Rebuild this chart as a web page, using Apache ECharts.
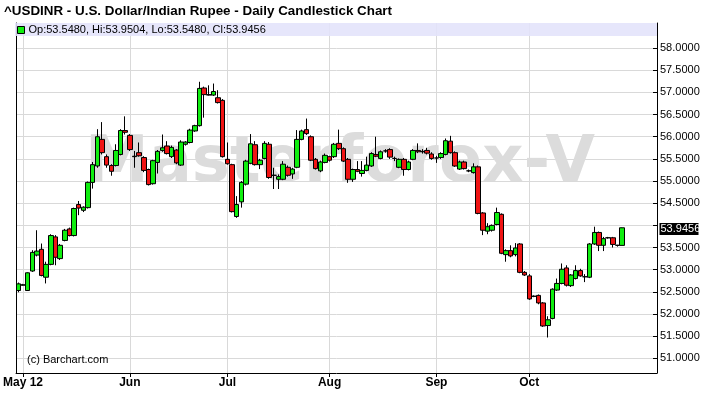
<!DOCTYPE html>
<html><head><meta charset="utf-8">
<script src="https://cdn.jsdelivr.net/npm/echarts@6/dist/echarts.min.js"></script>
<style>html,body{margin:0;padding:0;background:#fff;}#c{width:709px;height:394px;}</style>
</head><body><div id="c"></div>
<script>
const titleText = '^USDINR - U.S. Dollar/Indian Rupee - Daily Candlestick Chart';
const legendText = 'Op:53.5480, Hi:53.9504, Lo:53.5480, Cl:53.9456';
const watermarkText = 'Masterforex-V';
const copyrightText = '(c) Barchart.com';
const firstDate = '2012-04-30';
const slotCount = 138;
const monthTicks = {'2012-05-01':'May 12','2012-06-01':'Jun','2012-07-02':'Jul','2012-08-01':'Aug','2012-09-03':'Sep','2012-10-01':'Oct'};
const yTicks = [51,51.5,52,52.5,53,53.5,54,54.5,55,55.5,56,56.5,57,57.5,58];
const yMin = 50.669, yMax = 58.566;

const opens = [52.53,52.65,52.53,52.97,53.33,53.46,52.83,53.12,53.74,53.25,
53.66,53.92,53.77,54.47,54.34,54.40,54.97,55.34,55.94,55.55,
55.35,55.35,55.60,56.14,56.03,55.55,55.64,55.53,55.26,54.94,
55.42,55.69,55.79,55.55,55.70,55.36,55.83,55.87,56.13,56.25,
57.10,56.95,56.94,56.88,56.82,55.49,55.37,54.20,54.53,54.93,
55.40,55.82,55.37,55.51,55.83,55.13,55.04,55.04,55.31,55.16,
55.31,55.94,56.16,56.00,55.49,55.23,55.42,55.55,55.55,55.85,
55.73,55.49,55.04,55.26,55.17,55.24,55.34,55.60,55.51,55.68,
55.71,55.51,55.31,55.49,55.26,55.49,55.69,55.66,55.69,55.61,
55.52,55.53,55.60,55.90,55.64,55.27,55.43,55.23,55.19,55.32,
54.28,53.87,53.89,54.02,54.25,53.34,53.43,53.34,53.58,52.94,
52.86,52.40,52.42,52.25,51.74,51.90,52.54,52.69,53.04,52.64,
52.80,52.98,52.84,52.83,53.58,53.84,53.55,53.72,53.72,53.55,
53.548];
const closes = [52.68,52.66,52.93,53.39,53.42,52.87,53.12,53.77,53.28,53.55,
53.89,53.77,54.38,54.39,54.41,54.97,55.37,56.00,55.64,55.36,
55.22,55.69,56.14,56.10,55.71,55.56,55.57,55.24,54.92,55.46,
55.67,55.75,55.62,55.76,55.41,55.88,55.88,56.15,56.25,57.09,
56.95,56.94,57.02,56.77,55.55,55.39,54.31,54.47,54.97,55.45,
55.84,55.37,55.47,55.85,55.08,55.13,55.10,55.38,55.13,55.27,
55.94,56.13,56.07,55.47,55.28,55.43,55.58,55.47,55.83,55.73,
55.45,55.04,55.26,55.22,55.24,55.36,55.62,55.56,55.66,55.68,
55.54,55.51,55.49,55.26,55.43,55.69,55.66,55.67,55.63,55.51,
55.52,55.62,55.91,55.64,55.34,55.43,55.28,55.23,55.32,54.27,
53.89,53.97,54.00,54.29,53.37,53.43,53.31,53.49,52.94,52.88,
52.34,52.40,52.25,51.73,51.87,52.56,52.69,53.01,52.65,52.88,
52.98,52.86,52.84,53.58,53.84,53.55,53.70,53.72,53.57,53.55,
53.9456];
const lows = [52.49,52.64,52.52,52.95,53.30,52.85,52.69,53.10,53.10,53.22,
53.64,53.75,53.75,54.23,54.30,54.38,54.83,55.30,55.60,55.30,
55.12,55.33,55.58,56.05,55.68,55.30,55.55,55.20,54.90,54.92,
55.17,55.66,55.60,55.52,55.38,55.34,55.80,55.85,56.11,56.23,
56.43,56.93,56.92,56.75,55.53,55.37,54.29,54.17,54.40,54.90,
55.38,55.35,55.27,55.49,55.05,54.82,54.82,55.02,55.10,55.05,
55.29,55.92,56.04,55.45,55.26,55.20,55.40,55.44,55.52,55.70,
55.43,54.96,54.98,55.20,55.10,55.22,55.32,55.54,55.49,55.64,
55.50,55.45,55.29,55.12,55.24,55.47,55.63,55.62,55.60,55.48,
55.41,55.50,55.58,55.62,55.32,55.25,55.26,55.20,55.17,54.25,
53.78,53.80,53.86,54.00,53.35,53.18,53.28,53.30,52.92,52.86,
52.32,52.38,52.22,51.71,51.47,51.88,52.52,52.67,52.62,52.61,
52.78,52.84,52.72,52.81,53.56,53.42,53.42,53.70,53.50,53.52,
53.548];
const highs = [52.71,52.68,52.94,53.44,53.89,53.59,53.18,53.80,53.78,53.58,
53.92,53.95,54.40,54.55,54.43,54.99,55.43,56.17,56.33,55.60,
55.38,55.83,56.17,56.46,56.06,55.68,55.87,55.56,55.28,55.48,
55.70,56.05,55.90,55.80,55.72,55.92,55.90,56.18,56.27,57.24,
57.13,57.16,57.20,57.05,56.85,55.87,55.39,54.66,55.00,55.48,
56.06,55.90,55.50,55.90,55.88,55.30,55.15,55.45,55.35,55.30,
56.15,56.16,56.41,56.03,55.52,55.46,55.62,55.57,55.86,56.16,
55.76,55.52,55.28,55.45,55.45,55.55,55.65,56.00,55.69,55.72,
55.74,55.55,55.51,55.52,55.46,55.72,55.85,55.72,55.75,55.65,
55.57,55.65,55.96,56.02,55.67,55.46,55.46,55.26,55.40,55.35,
54.30,54.05,54.02,54.40,54.27,53.46,53.55,53.60,53.60,52.97,
52.90,52.42,52.44,52.27,51.95,52.58,52.80,53.14,53.10,52.90,
53.10,53.02,52.90,53.60,53.97,53.86,53.74,53.74,53.74,53.56,
53.9504];

const dates = [];
(function(){
  const p = firstDate.split('-').map(Number);
  const d = new Date(Date.UTC(p[0], p[1]-1, p[2]));
  while (dates.length < slotCount) {
    const wd = d.getUTCDay();
    if (wd !== 0 && wd !== 6) dates.push(d.toISOString().slice(0,10));
    d.setUTCDate(d.getUTCDate()+1);
  }
})();
const candles = opens.map((o,i)=>[o, closes[i], lows[i], highs[i]]);
const isMonth = (idx, val) => monthTicks[val] !== undefined;
const lastClose = closes[closes.length-1];
const labelTicks = yTicks.filter(v => Math.abs(v - lastClose) > 0.2);

const chart = echarts.init(document.getElementById('c'), null, {renderer:'canvas'});
const GRID = {left:15, right:52, top:23, bottom:21};
chart.setOption({
  animation:false,
  grid: GRID,
  xAxis: {
    type:'category', data: dates, boundaryGap:true,
    axisLine:{show:true, lineStyle:{color:'#000', width:1}},
    axisTick:{show:true, alignWithLabel:true, interval:isMonth, length:4, lineStyle:{color:'#000'}},
    axisLabel:{show:true, interval:isMonth, formatter:v=>monthTicks[v]||'', color:'#000', fontWeight:'bold',
      fontSize:12, fontFamily:'"Liberation Sans Narrow", "Liberation Sans", Arial, sans-serif', margin:4},
    splitLine:{show:true, interval:isMonth, alignWithLabel:true, lineStyle:{color:'#d9d9d9', width:1}}
  },
  yAxis: [{
    type:'value', position:'right', min:yMin, max:yMax, scale:true,
    axisLine:{show:true, lineStyle:{color:'#000'}},
    axisTick:{show:true, inside:true, length:4, customValues:yTicks, lineStyle:{color:'#000'}},
    axisLabel:{show:true, customValues:labelTicks, formatter:v=>Number(v).toFixed(4), color:'#000', fontSize:11,
      fontFamily:'"Liberation Sans", Arial, sans-serif', margin:3},
    splitLine:{show:true, lineStyle:{color:'#d9d9d9', width:1}}
  },{
    type:'value', position:'left', min:yMin, max:yMax,
    axisLine:{show:true, onZero:false, lineStyle:{color:'#000'}},
    axisTick:{show:false}, axisLabel:{show:false}, splitLine:{show:false}
  }],
  series: [{
    type:'candlestick', data:candles, barWidth:5, z:3,
    itemStyle:{color:'#10ee10', color0:'#f01414', borderColor:'#000', borderColor0:'#000', borderWidth:1},
    emphasis:{disabled:true}
  }]
});

const lastY = chart.convertToPixel({yAxisIndex:0}, lastClose);
const plotW = 709 - GRID.left - GRID.right;
chart.setOption({
  graphic: [
    {type:'text', z:1, x:340, y:164, style:{text:watermarkText, font:'bold 64px "DejaVu Sans", sans-serif', fill:'#dcdcdc', align:'center', verticalAlign:'middle'}},
    {type:'text', z:10, x:4, y:11, style:{text:titleText, font:'bold 13.4px "Liberation Sans", Arial, sans-serif', fill:'#000', align:'left', verticalAlign:'middle'}},
    {type:'rect', z:10, shape:{x:GRID.left, y:GRID.top, width:plotW, height:13}, style:{fill:'rgba(226,226,250,0.88)'}},
    {type:'rect', z:11, shape:{x:17.5, y:26.5, width:7, height:7}, style:{fill:'#10ee10', stroke:'#000', lineWidth:1}},
    {type:'text', z:11, x:28.5, y:30, style:{text:legendText, font:'11px "Liberation Sans", Arial, sans-serif', fill:'#000', align:'left', verticalAlign:'middle'}},
    {type:'text', z:10, x:27, y:360, style:{text:copyrightText, font:'11px "Liberation Sans", Arial, sans-serif', fill:'#000', align:'left', verticalAlign:'middle'}},
    {type:'rect', z:11, shape:{x:659.5, y:Math.round(lastY)-5, width:39, height:12}, style:{fill:'#000'}},
    {type:'text', z:12, x:660.5, y:Math.round(lastY)+1, style:{text:lastClose.toFixed(4), font:'11px "Liberation Sans", Arial, sans-serif', fill:'#fff', align:'left', verticalAlign:'middle'}}
  ]
});
</script></body></html>
